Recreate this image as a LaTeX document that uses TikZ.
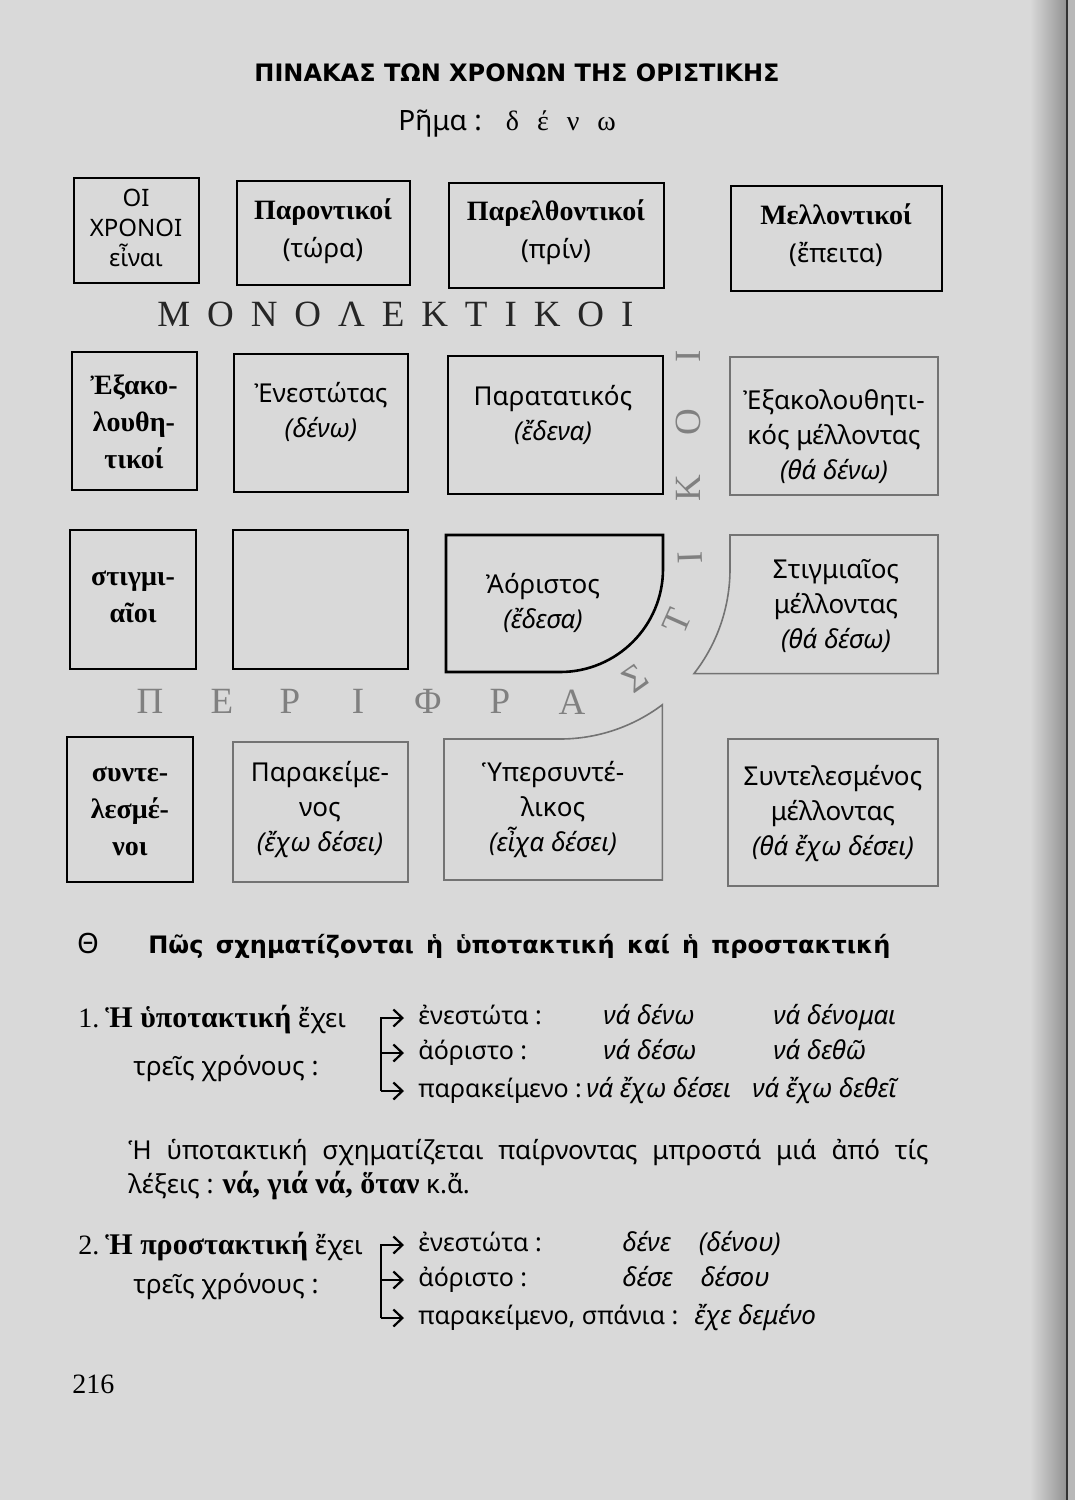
\documentclass[tikz,border=0pt]{standalone}
\usepackage{fontspec}
\setmainfont{Liberation Serif}
\setsansfont{Noto Sans}
\newfontfamily\headsans{DejaVu Sans}
\usetikzlibrary{arrows.meta,fit}

\newcommand{\sanstxt}{\sffamily\mdseries\fontsize{13}{19}\selectfont}
\newcommand{\boldgr}{\rmfamily\bfseries\fontsize{15}{17}\selectfont}

\begin{document}
\begin{tikzpicture}[x=0.5pt, y=0.5pt,
  mono/.style={draw, line width=1.3pt, inner sep=0pt},
  peri/.style={draw=black!55, line width=0.8pt, inner sep=0pt},
  toprow/.style={font=\rmfamily\bfseries\fontsize{14}{19}\selectfont, align=center},
  lab/.style={font=\sffamily\fontsize{13}{17.5}\selectfont, align=center},
  boldbox/.style={font=\rmfamily\bfseries\fontsize{14}{18.5}\selectfont, align=center},
  lett/.style={text=black!50, font=\rmfamily\fontsize{18.5}{18}\selectfont, inner sep=0pt},
  txt/.style={font=\sffamily\fontsize{13}{15}\selectfont, inner sep=0pt},
  cell/.style={txt, font=\sffamily\fontsize{12.5}{15}\selectfont, anchor=west, text height=9pt, text depth=3pt},
  icell/.style={cell, font=\sffamily\itshape\fontsize{13}{15}\selectfont},
  arr/.style={line width=1.1pt, -{Straight Barb[length=4.5pt,width=8.5pt]}, shorten >=7pt}]
% page
\useasboundingbox (0,0) rectangle (1075,-1500);
\fill[black!15] (0,0) rectangle (1075,-1500);
\shade[left color=black!15, right color=black!42] (1030,0) rectangle (1066,-1500);
\draw[black!80, line width=1pt] (1067,0) -- (1067,-1500);
\fill[black!28] (1068,0) rectangle (1075,-1500);

% title
\node[font=\headsans\bfseries\fontsize{12}{14}\selectfont, anchor=base] (title) at (517,-81) {ΠΙΝΑΚΑΣ ΤΩΝ ΧΡΟΝΩΝ ΤΗΣ ΟΡΙΣΤΙΚΗΣ};
\node[txt, font=\sffamily\fontsize{14}{16}\selectfont, anchor=base west] (rima) at (398,-130) {Ρῆμα :\hspace{12pt}{\rmfamily\fontsize{14}{16}\selectfont δ\hspace{9pt}έ\hspace{9pt}ν\hspace{9pt}ω}};

% header row
\node[mono, fit={(74,-178) (199,-283)}] (xronoi) {};
\node[mono, fit={(237,-181) (410,-285)}] (paront) {};
\node[mono, fit={(449,-183) (664,-288)}] (parelth) {};
\node[mono, fit={(731,-186) (942,-291)}] (mellont) {};
\node[lab, font=\sffamily\fontsize{12}{15}\selectfont] (xronoitxt) at (136,-228) {ΟΙ\\ΧΡΟΝΟΙ\\εἶναι};
\node[toprow] (paronttxt) at (323,-231) {Παροντικοί\\{\sanstxt (τώρα)}};
\node[toprow] (parelthtxt) at (556,-232) {Παρελθοντικοί\\{\sanstxt (πρίν)}};
\node[toprow] (mellonttxt) at (836,-235) {Μελλοντικοί\\{\sanstxt (ἔπειτα)}};

\node[lett, text=black!85, anchor=base west] (monolekt) at (157,-326) {\makebox[238pt][s]{Μ Ο Ν Ο Λ Ε Κ Τ Ι Κ Ο Ι}};

% second row
\node[mono, fit={(72,-352) (197,-490)}] (exak) {};
\node[mono, fit={(234,-354) (408,-492)}] (enest) {};
\node[mono, fit={(448,-356) (663,-494)}] (paratat) {};
\node[peri, fit={(730,-357) (938,-495)}] (exakmell) {};
\node[boldbox] (exaktxt) at (134,-422) {Ἐξακο-\\λουθη-\\τικοί};
\node[lab] (enesttxt) at (321,-412) {Ἐνεστώτας\\\textit{(δένω)}};
\node[lab] (paratattxt) at (553,-415) {Παρατατικός\\\textit{(ἔδενα)}};
\node[lab] (exakmelltxt) at (834,-437) {Ἐξακολουθητι-\\κός μέλλοντας\\\textit{(θά δένω)}};

% third row
\node[mono, fit={(70,-530) (196,-669)}] (stigm) {};
\node[mono, fit={(233,-530) (408,-669)}] (empty) {};
\node[boldbox] (stigmtxt) at (133,-597) {στιγμι-\\αῖοι};
\draw[mono] (446,-535) -- (663,-535) -- (663,-569) arc[start angle=0, end angle=-90, radius=103] -- (446,-672) -- cycle;
\node[lab] (aor) at (543,-603) {Ἀόριστος\\\textit{(ἔδεσα)}};
\draw[peri] (938,-535) -- (730,-535) -- (730,-569) arc[start angle=0, end angle=-38, radius=170] -| (938,-535) -- cycle;
\node[lab] (stigmmell) at (836,-606) {Στιγμιαῖος\\μέλλοντας\\\textit{(θά δέσω)}};

% periphrastic letters
\foreach \l/\x/\y/\r [count=\i] in {Π/150/701/0, Ε/222/701/0, Ρ/290/701/0, Ι/358/701/0, Φ/428/701/0, Ρ/500/701/0, Α/572/702/0, Σ/635/678/35, Τ/677/621/66, Ι/690/558/92, Κ/688/488/90, Ο/688/422/90, Ι/688/356/90}
  \node[lett, rotate=\r] (letter\i) at (\x,-\y) {\l};

% fourth row
\node[mono, fit={(67,-737) (193,-882)}] (syntel) {};
\node[peri, fit={(233,-742) (408,-882)}] (parakeim) {};
\node[peri, fit={(728,-739) (938,-886)}] (syntmell) {};
\node[boldbox] (synteltxt) at (130,-811) {συντε-\\λεσμέ-\\νοι};
\node[lab] (parakeimtxt) at (320,-810) {Παρακείμε-\\νος\\\textit{(ἔχω δέσει)}};
\draw[peri] (444,-880) -- (444,-739) -- (560,-739) arc[start angle=-90, end angle=-53, radius=170] |- (444,-880) -- cycle;
\node[lab] (hypersyn) at (553,-810) {Ὑπερσυντέ-\\λικος\\\textit{(εἶχα δέσει)}};
\node[lab] (syntmelltxt) at (833,-814) {Συντελεσμένος\\μέλλοντας\\\textit{(θά ἔχω δέσει)}};

% section heading
\node[font=\sffamily\fontsize{14}{16}\selectfont, anchor=base] (theta) at (88,-953) {Θ};
\node[font=\headsans\bfseries\fontsize{12}{16}\selectfont, anchor=base west, inner sep=0pt] (howto) at (148,-953) {\makebox[371pt][s]{Πῶς σχηματίζονται ἡ ὑποτακτική καί ἡ προστακτική}};

% subjunctive
\node[txt, anchor=base west] (num1) at (78,-1027) {\rmfamily\fontsize{14}{16}\selectfont 1.};
\node[txt, anchor=base west] (sub1) at (105,-1027) {{\boldgr Ἡ ὑποτακτική} ἔχει};
\node[txt, anchor=base west] (three1) at (133,-1075) {τρεῖς χρόνους :};
\node[cell] (s1a) at (418,-1018) {ἐνεστώτα :};
\node[cell] (s1b) at (418,-1053) {ἀόριστο :};
\node[cell] (s1c) at (418,-1091) {παρακείμενο :};
\node[icell] (s1a2) at (603,-1018) {νά δένω};
\node[icell] (s1b2) at (603,-1053) {νά δέσω};
\node[icell] (s1c2) at (586,-1091) {νά ἔχω δέσει};
\node[icell] (s1a3) at (773,-1018) {νά δένομαι};
\node[icell] (s1b3) at (773,-1053) {νά δεθῶ};
\node[icell] (s1c3) at (752,-1091) {νά ἔχω δεθεῖ};
\coordinate (br1) at (381,-1091);
\draw[arr] (br1) |- (s1a.west);
\draw[arr] (br1) |- (s1b.west);
\draw[arr] (br1) -- (s1c.west);

\node[txt, anchor=base west] (rule1) at (128,-1159) {\makebox[400pt][s]{Ἡ ὑποτακτική σχηματίζεται παίρνοντας μπροστά μιά ἀπό τίς}};
\node[txt, anchor=base west] (rule2) at (128,-1193) {λέξεις : {\boldgr νά, γιά νά, ὅταν} κ.ἄ.};

% imperative
\node[txt, anchor=base west] (num2) at (78,-1254) {\rmfamily\fontsize{14}{16}\selectfont 2.};
\node[txt, anchor=base west] (sub2) at (105,-1254) {{\boldgr Ἡ προστακτική} ἔχει};
\node[txt, anchor=base west] (three2) at (133,-1293) {τρεῖς χρόνους :};
\node[cell] (s2a) at (418,-1245) {ἐνεστώτα :};
\node[cell] (s2b) at (418,-1280) {ἀόριστο :};
\node[cell] (s2c) at (418,-1318) {παρακείμενο, σπάνια :};
\node[icell] (s2a2) at (622,-1245) {δένε\hspace{14pt}(δένου)};
\node[icell] (s2b2) at (622,-1280) {δέσε\hspace{14pt}δέσου};
\node[icell] (s2c2) at (694,-1318) {ἔχε δεμένο};
\coordinate (br2) at (381,-1318);
\draw[arr] (br2) |- (s2a.west);
\draw[arr] (br2) |- (s2b.west);
\draw[arr] (br2) -- (s2c.west);

\node[font=\rmfamily\fontsize{14}{16}\selectfont, anchor=base west, inner sep=0pt] (page) at (72,-1393) {216};
\end{tikzpicture}
\end{document}
